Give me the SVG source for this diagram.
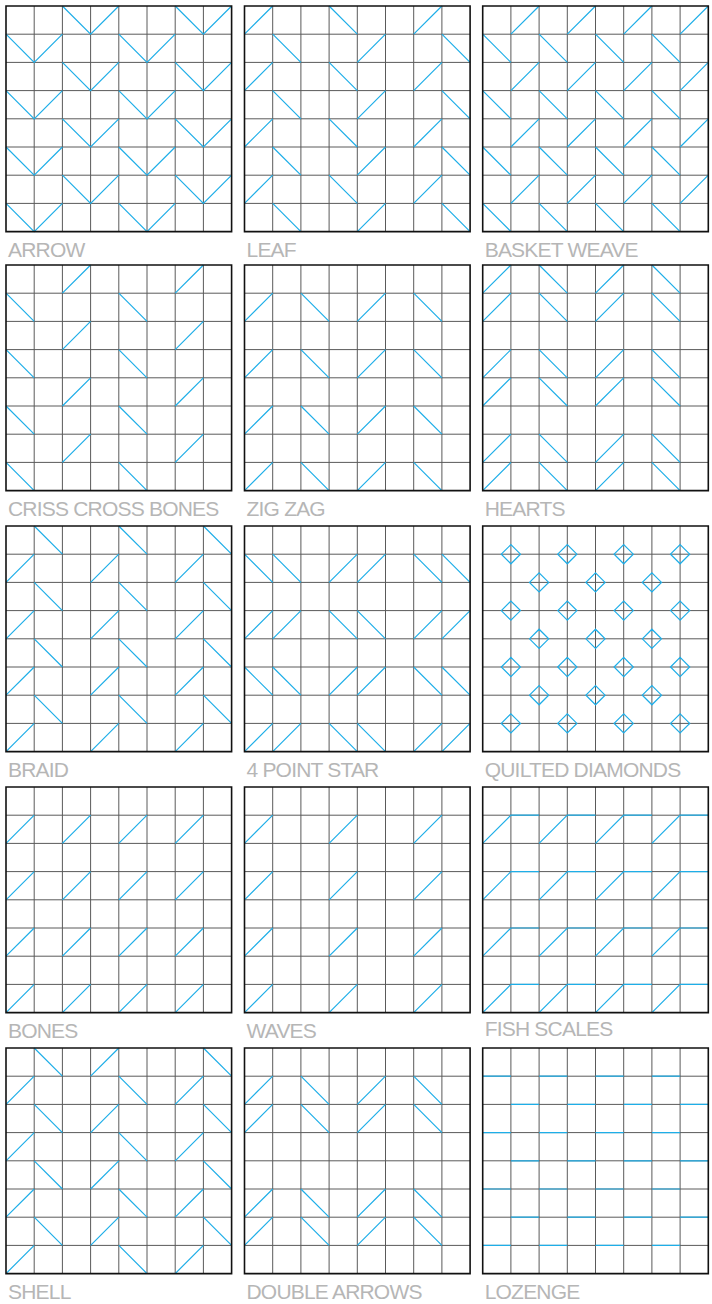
<svg xmlns="http://www.w3.org/2000/svg" xmlns:xlink="http://www.w3.org/1999/xlink" width="712" height="1304" viewBox="0 0 712 1304">
<style>
.g{fill:none;stroke:#5a5a5a;stroke-width:1;vector-effect:non-scaling-stroke}
.f{fill:none;stroke:#111;stroke-width:1.6;vector-effect:non-scaling-stroke}
.b{fill:none;stroke:#1eaee8;stroke-width:1.2;vector-effect:non-scaling-stroke}
.t{font-family:"Liberation Sans",Arial,sans-serif;font-size:21px;letter-spacing:-0.8px;fill:#b6b6b6}
</style>
<defs>
<path id="grid" class="g" d="M1 0V8M2 0V8M3 0V8M4 0V8M5 0V8M6 0V8M7 0V8M0 1H8M0 2H8M0 3H8M0 4H8M0 5H8M0 6H8M0 7H8"/>
<rect id="frame" class="f" x="0" y="0" width="8" height="8"/>
</defs>
<rect width="712" height="1304" fill="#fff"/>

<g id="arrow" transform="translate(6 6)">
<g transform="scale(28.2)"><use href="#grid"/>
<path class="b" d="M2 0l1 1 1-1M6 0l1 1 1-1M0 1l1 1 1-1M4 1l1 1 1-1M2 2l1 1 1-1M6 2l1 1 1-1M0 3l1 1 1-1M4 3l1 1 1-1M2 4l1 1 1-1M6 4l1 1 1-1M0 5l1 1 1-1M4 5l1 1 1-1M2 6l1 1 1-1M6 6l1 1 1-1M0 7l1 1 1-1M4 7l1 1 1-1"/>
<use href="#frame"/></g>
<text class="t" x="2" y="251">ARROW</text>
</g>

<g id="leaf" transform="translate(244.5 6)">
<g transform="scale(28.2)"><use href="#grid"/>
<path class="b" d="M0 1l1-1M3 0l1 1M6 1l1-1M1 1l1 1M4 2l1-1M7 1l1 1M0 3l1-1M3 2l1 1M6 3l1-1M1 3l1 1M4 4l1-1M7 3l1 1M0 5l1-1M3 4l1 1M6 5l1-1M1 5l1 1M4 6l1-1M7 5l1 1M0 7l1-1M3 6l1 1M6 7l1-1M1 7l1 1M4 8l1-1M7 7l1 1"/>
<use href="#frame"/></g>
<text class="t" x="2" y="251">LEAF</text>
</g>

<g id="basket-weave" transform="translate(482.7 6)">
<g transform="scale(28.2)"><use href="#grid"/>
<path class="b" d="M1 1l1-1M3 1l1-1M5 1l1-1M7 1l1-1M0 1l1 1M2 1l1 1M4 1l1 1M6 1l1 1M1 3l1-1M3 3l1-1M5 3l1-1M7 3l1-1M0 3l1 1M2 3l1 1M4 3l1 1M6 3l1 1M1 5l1-1M3 5l1-1M5 5l1-1M7 5l1-1M0 5l1 1M2 5l1 1M4 5l1 1M6 5l1 1M1 7l1-1M3 7l1-1M5 7l1-1M7 7l1-1M0 7l1 1M2 7l1 1M4 7l1 1M6 7l1 1"/>
<use href="#frame"/></g>
<text class="t" x="2" y="251">BASKET WEAVE</text>
</g>

<g id="criss-cross-bones" transform="translate(6 265)">
<g transform="scale(28.2)"><use href="#grid"/>
<path class="b" d="M2 1l1-1M6 1l1-1M0 1l1 1M4 1l1 1M2 3l1-1M6 3l1-1M0 3l1 1M4 3l1 1M2 5l1-1M6 5l1-1M0 5l1 1M4 5l1 1M2 7l1-1M6 7l1-1M0 7l1 1M4 7l1 1"/>
<use href="#frame"/></g>
<text class="t" x="2" y="251">CRISS CROSS BONES</text>
</g>

<g id="zig-zag" transform="translate(244.5 265)">
<g transform="scale(28.2)"><use href="#grid"/>
<path class="b" d="M0 2l1-1M2 1l1 1M4 2l1-1M6 1l1 1M0 4l1-1M2 3l1 1M4 4l1-1M6 3l1 1M0 6l1-1M2 5l1 1M4 6l1-1M6 5l1 1M0 8l1-1M2 7l1 1M4 8l1-1M6 7l1 1"/>
<use href="#frame"/></g>
<text class="t" x="2" y="251">ZIG ZAG</text>
</g>

<g id="hearts" transform="translate(482.7 265)">
<g transform="scale(28.2)"><use href="#grid"/>
<path class="b" d="M0 1l1-1M2 0l1 1M4 1l1-1M6 0l1 1M0 2l1-1M2 1l1 1M4 2l1-1M6 1l1 1M0 4l1-1M2 3l1 1M4 4l1-1M6 3l1 1M0 5l1-1M2 4l1 1M4 5l1-1M6 4l1 1M0 7l1-1M2 6l1 1M4 7l1-1M6 6l1 1M0 8l1-1M2 7l1 1M4 8l1-1M6 7l1 1"/>
<use href="#frame"/></g>
<text class="t" x="2" y="251">HEARTS</text>
</g>

<g id="braid" transform="translate(6 526)">
<g transform="scale(28.2)"><use href="#grid"/>
<path class="b" d="M1 0l1 1M4 0l1 1M7 0l1 1M0 2l1-1M3 2l1-1M6 2l1-1M1 2l1 1M4 2l1 1M7 2l1 1M0 4l1-1M3 4l1-1M6 4l1-1M1 4l1 1M4 4l1 1M7 4l1 1M0 6l1-1M3 6l1-1M6 6l1-1M1 6l1 1M4 6l1 1M7 6l1 1M0 8l1-1M3 8l1-1M6 8l1-1"/>
<use href="#frame"/></g>
<text class="t" x="2" y="251">BRAID</text>
</g>

<g id="four-point-star" transform="translate(244.5 526)">
<g transform="scale(28.2)"><use href="#grid"/>
<path class="b" d="M0 1l1 1M1 1l1 1M3 2l1-1M4 2l1-1M6 1l1 1M7 1l1 1M0 4l1-1M1 4l1-1M3 3l1 1M4 3l1 1M6 4l1-1M7 4l1-1M0 5l1 1M1 5l1 1M3 6l1-1M4 6l1-1M6 5l1 1M7 5l1 1M0 8l1-1M1 8l1-1M3 7l1 1M4 7l1 1M6 8l1-1M7 8l1-1"/>
<use href="#frame"/></g>
<text class="t" x="2" y="251">4 POINT STAR</text>
</g>

<g id="quilted-diamonds" transform="translate(482.7 526)">
<g transform="scale(28.2)"><use href="#grid"/>
<path class="b" d="M.66 1l.34-.34.34.34-.34.34zM2.66 1l.34-.34.34.34-.34.34zM4.66 1l.34-.34.34.34-.34.34zM6.66 1l.34-.34.34.34-.34.34zM1.66 2l.34-.34.34.34-.34.34zM3.66 2l.34-.34.34.34-.34.34zM5.66 2l.34-.34.34.34-.34.34zM.66 3l.34-.34.34.34-.34.34zM2.66 3l.34-.34.34.34-.34.34zM4.66 3l.34-.34.34.34-.34.34zM6.66 3l.34-.34.34.34-.34.34zM1.66 4l.34-.34.34.34-.34.34zM3.66 4l.34-.34.34.34-.34.34zM5.66 4l.34-.34.34.34-.34.34zM.66 5l.34-.34.34.34-.34.34zM2.66 5l.34-.34.34.34-.34.34zM4.66 5l.34-.34.34.34-.34.34zM6.66 5l.34-.34.34.34-.34.34zM1.66 6l.34-.34.34.34-.34.34zM3.66 6l.34-.34.34.34-.34.34zM5.66 6l.34-.34.34.34-.34.34zM.66 7l.34-.34.34.34-.34.34zM2.66 7l.34-.34.34.34-.34.34zM4.66 7l.34-.34.34.34-.34.34zM6.66 7l.34-.34.34.34-.34.34z"/>
<use href="#frame"/></g>
<text class="t" x="2" y="251">QUILTED DIAMONDS</text>
</g>

<g id="bones" transform="translate(6 787)">
<g transform="scale(28.2)"><use href="#grid"/>
<path class="b" d="M0 2l1-1M2 2l1-1M4 2l1-1M6 2l1-1M0 4l1-1M2 4l1-1M4 4l1-1M6 4l1-1M0 6l1-1M2 6l1-1M4 6l1-1M6 6l1-1M0 8l1-1M2 8l1-1M4 8l1-1M6 8l1-1"/>
<use href="#frame"/></g>
<text class="t" x="2" y="251">BONES</text>
</g>

<g id="waves" transform="translate(244.5 787)">
<g transform="scale(28.2)"><use href="#grid"/>
<path class="b" d="M0 2l1-1M3 2l1-1M6 2l1-1M0 4l1-1M3 4l1-1M6 4l1-1M0 6l1-1M3 6l1-1M6 6l1-1M0 8l1-1M3 8l1-1M6 8l1-1"/>
<use href="#frame"/></g>
<text class="t" x="2" y="251">WAVES</text>
</g>

<g id="fish-scales" transform="translate(482.7 787)">
<g transform="scale(28.2)"><use href="#grid"/>
<path class="b" d="M0 2l1-1h1M2 2l1-1h1M4 2l1-1h1M6 2l1-1h1M0 4l1-1h1M2 4l1-1h1M4 4l1-1h1M6 4l1-1h1M0 6l1-1h1M2 6l1-1h1M4 6l1-1h1M6 6l1-1h1M0 8l1-1h1M2 8l1-1h1M4 8l1-1h1M6 8l1-1h1"/>
<use href="#frame"/></g>
<text class="t" x="2" y="249">FISH SCALES</text>
</g>

<g id="shell" transform="translate(6 1048)">
<g transform="scale(28.2)"><use href="#grid"/>
<path class="b" d="M1 0l1 1M3 1l1-1M7 0l1 1M0 2l1-1M4 1l1 1M6 2l1-1M1 2l1 1M3 3l1-1M7 2l1 1M0 4l1-1M4 3l1 1M6 4l1-1M1 4l1 1M3 5l1-1M7 4l1 1M0 6l1-1M4 5l1 1M6 6l1-1M1 6l1 1M3 7l1-1M7 6l1 1M0 8l1-1M4 7l1 1M6 8l1-1"/>
<use href="#frame"/></g>
<text class="t" x="2" y="251">SHELL</text>
</g>

<g id="double-arrows" transform="translate(244.5 1048)">
<g transform="scale(28.2)"><use href="#grid"/>
<path class="b" d="M0 2l1-1M2 1l1 1M4 2l1-1M6 1l1 1M0 3l1-1M2 2l1 1M4 3l1-1M6 2l1 1M0 6l1-1M2 5l1 1M4 6l1-1M6 5l1 1M0 7l1-1M2 6l1 1M4 7l1-1M6 6l1 1"/>
<use href="#frame"/></g>
<text class="t" x="2" y="251">DOUBLE ARROWS</text>
</g>

<g id="lozenge" transform="translate(482.7 1048)">
<g transform="scale(28.2)"><use href="#grid"/>
<path class="b" d="M0 1h1M2 1h1M4 1h1M6 1h1M1 2h1M3 2h1M5 2h1M7 2h1M0 3h1M2 3h1M4 3h1M6 3h1M1 4h1M3 4h1M5 4h1M7 4h1M0 5h1M2 5h1M4 5h1M6 5h1M1 6h1M3 6h1M5 6h1M7 6h1M0 7h1M2 7h1M4 7h1M6 7h1"/>
<use href="#frame"/></g>
<text class="t" x="2" y="251">LOZENGE</text>
</g>
</svg>
